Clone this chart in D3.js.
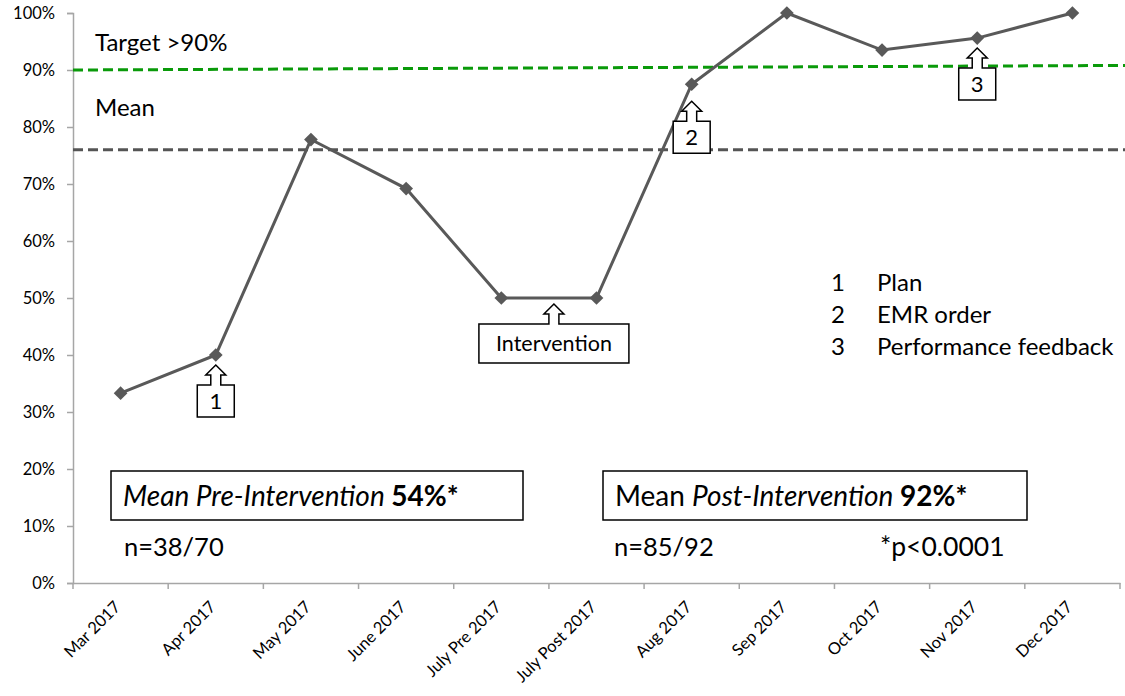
<!DOCTYPE html>
<html>
<head>
<meta charset="utf-8">
<script src="https://cdn.jsdelivr.net/npm/d3@7"></script>
<style>
  body { margin: 0; background: #fff; }
  text { font-family: Lato, "Noto Sans", sans-serif; fill: #000; }
</style>
</head>
<body>
<div id="chart"></div>
<script>

// Chart data
// ================================
var months = ["Mar 2017", "Apr 2017", "May 2017", "June 2017", "July Pre 2017",
    "July Post 2017", "Aug 2017", "Sep 2017", "Oct 2017", "Nov 2017", "Dec 2017"];
var compliance = [33.3, 40, 77.8, 69.2, 50, 50, 87.5, 100, 93.5, 95.6, 100];
var yTicks = [0, 10, 20, 30, 40, 50, 60, 70, 80, 90, 100];
var meanValue = 76;
var targetLine = [90, 90.8];   // drawn slightly tilted, as in the original

// numbered callouts
var calloutMonths = ["Apr 2017", "Aug 2017", "Nov 2017"];
var calloutLabels = ["1", "2", "3"];
var legendItems = ["Plan", "EMR order", "Performance feedback"];

// SVG dimensions
var svgWidth = 1125;
var svgHeight = 696;

var svg = d3.select("#chart")
    .append("svg")
    .attr("width", svgWidth)
    .attr("height", svgHeight);

// Scales
// ================================
var xScale = d3.scaleBand()
    .domain(months)
    .range([73, 1120])
    .padding(0);

var yScale = d3.scaleLinear()
    .domain([0, 100])
    .range([583, 13]);

var mid = d => xScale(d) + xScale.bandwidth() / 2;

// Axes
// ================================
var axisColor = "#a6a6a6";

var leftAxis = d3.axisLeft(yScale)
    .tickValues(yTicks)
    .tickSize(6)
    .tickPadding(12)
    .tickFormat(d => d + "%");

var yAxis = svg.append("g")
    .attr("transform", "translate(73,0)")
    .call(leftAxis);
yAxis.select(".domain").attr("stroke", axisColor).attr("stroke-width", 1.5);
yAxis.selectAll(".tick line").attr("stroke", axisColor).attr("stroke-width", 1.5);
yAxis.selectAll(".tick text")
    .style("font-size", "16.5px")
    .attr("fill", "#000");

var bottomAxis = d3.axisBottom(xScale).tickSize(0).tickPadding(0);
var xAxis = svg.append("g")
    .attr("transform", "translate(0,583)")
    .call(bottomAxis);
xAxis.select(".domain").attr("stroke", axisColor).attr("stroke-width", 1.5);
xAxis.selectAll(".tick text")
    .style("font-size", "16.5px")
    .attr("text-anchor", "end")
    .attr("dy", 0)
    .attr("transform", "translate(1,25) rotate(-45)");

// boundary ticks between the months
var edges = months.map(d => xScale(d)).concat([xScale.range()[1]]);
xAxis.selectAll(".edge")
    .data(edges)
    .enter()
    .append("line")
    .attr("x1", d => d)
    .attr("x2", d => d)
    .attr("y1", 0)
    .attr("y2", 6)
    .attr("stroke", axisColor)
    .attr("stroke-width", 1.5);

// Reference lines
// ================================
svg.append("line")
    .attr("x1", 73).attr("x2", svgWidth)
    .attr("y1", yScale(meanValue)).attr("y2", yScale(meanValue))
    .attr("stroke", "#555")
    .attr("stroke-width", 3)
    .attr("stroke-dasharray", "10,5");

svg.append("line")
    .attr("x1", 73).attr("x2", svgWidth)
    .attr("y1", yScale(targetLine[0])).attr("y2", yScale(targetLine[1]))
    .attr("stroke", "#0a9a0a")
    .attr("stroke-width", 3)
    .attr("stroke-dasharray", "10,5");

svg.append("text")
    .attr("x", 95).attr("y", 51)
    .style("font-size", "24px")
    .text("Target >90%");

svg.append("text")
    .attr("x", 95).attr("y", 116)
    .style("font-size", "24px")
    .text("Mean");

// Data line and markers
// ================================
var line = d3.line()
    .x((d, i) => mid(months[i]))
    .y(d => yScale(d));

svg.append("path")
    .datum(compliance)
    .attr("d", line)
    .attr("fill", "none")
    .attr("stroke", "#595959")
    .attr("stroke-width", 3);

svg.append("g")
    .selectAll("path")
    .data(compliance)
    .enter()
    .append("path")
    .attr("d", d3.symbol().type(d3.symbolDiamond2).size(120))
    .attr("transform", (d, i) => `translate(${mid(months[i])},${yScale(d)})`)
    .attr("fill", "#595959");

// Callout arrows (up arrow into a box)
// ================================
function callout(tx, ty, w, h, label, size) {
    var hx = 10, sx = 5, headH = 10, shaft = 10;
    var top = ty + headH + shaft;
    var left = tx - w / 2, right = tx + w / 2;
    var p = d3.path();
    p.moveTo(tx, ty);
    p.lineTo(tx + hx, ty + headH);
    p.lineTo(tx + sx, ty + headH);
    p.lineTo(tx + sx, top);
    p.lineTo(right, top);
    p.lineTo(right, top + h);
    p.lineTo(left, top + h);
    p.lineTo(left, top);
    p.lineTo(tx - sx, top);
    p.lineTo(tx - sx, ty + headH);
    p.lineTo(tx - hx, ty + headH);
    p.closePath();

    svg.append("path")
        .attr("d", p.toString())
        .attr("fill", "#fff")
        .attr("stroke", "#000")
        .attr("stroke-width", 1.5);

    svg.append("text")
        .attr("x", tx)
        .attr("y", top + h / 2 + size * 0.36)
        .attr("text-anchor", "middle")
        .style("font-size", size + "px")
        .text(label);
}

var calloutGap = [10, 17, 10];
calloutMonths.forEach((m, i) => {
    var v = compliance[months.indexOf(m)];
    callout(mid(m), yScale(v) + calloutGap[i], 37, 32, calloutLabels[i], 22);
});

// Intervention callout between the two July points
var interX = (mid("July Pre 2017") + mid("July Post 2017")) / 2 + 5;
callout(interX, yScale(compliance[4]) + 6, 150, 39, "Intervention", 21.5);

// Legend
// ================================
var legend = svg.append("g");
legendItems.forEach((item, i) => {
    legend.append("text")
        .attr("x", 831).attr("y", 291 + i * 32)
        .style("font-size", "24px")
        .text(i + 1);
    legend.append("text")
        .attr("x", 877).attr("y", 291 + i * 32)
        .style("font-size", "24px")
        .text(item);
});

// Summary boxes
// ================================
function summaryBox(x, w, parts) {
    svg.append("rect")
        .attr("x", x).attr("y", 471)
        .attr("width", w).attr("height", 49)
        .attr("fill", "#fff")
        .attr("stroke", "#000")
        .attr("stroke-width", 1.5);
    var t = svg.append("text")
        .attr("x", x + 12).attr("y", 506)
        .style("font-size", "28px");
    parts.forEach(p => {
        t.append("tspan")
            .style("font-style", p.italic ? "italic" : "normal")
            .style("font-weight", p.bold ? "bold" : "normal")
            .text(p.text);
    });
}

summaryBox(111, 412, [
    { text: "Mean Pre-Intervention ", italic: true },
    { text: "54%*", bold: true }
]);
summaryBox(603, 424, [
    { text: "Mean " },
    { text: "Post-Intervention ", italic: true },
    { text: "92%*", bold: true }
]);

svg.append("text").attr("x", 124).attr("y", 556)
    .style("font-size", "25.5px").text("n=38/70");
svg.append("text").attr("x", 614).attr("y", 556)
    .style("font-size", "25.5px").text("n=85/92");
svg.append("text").attr("x", 880).attr("y", 556)
    .style("font-size", "26.5px").text("*p<0.0001");

</script>
</body>
</html>
